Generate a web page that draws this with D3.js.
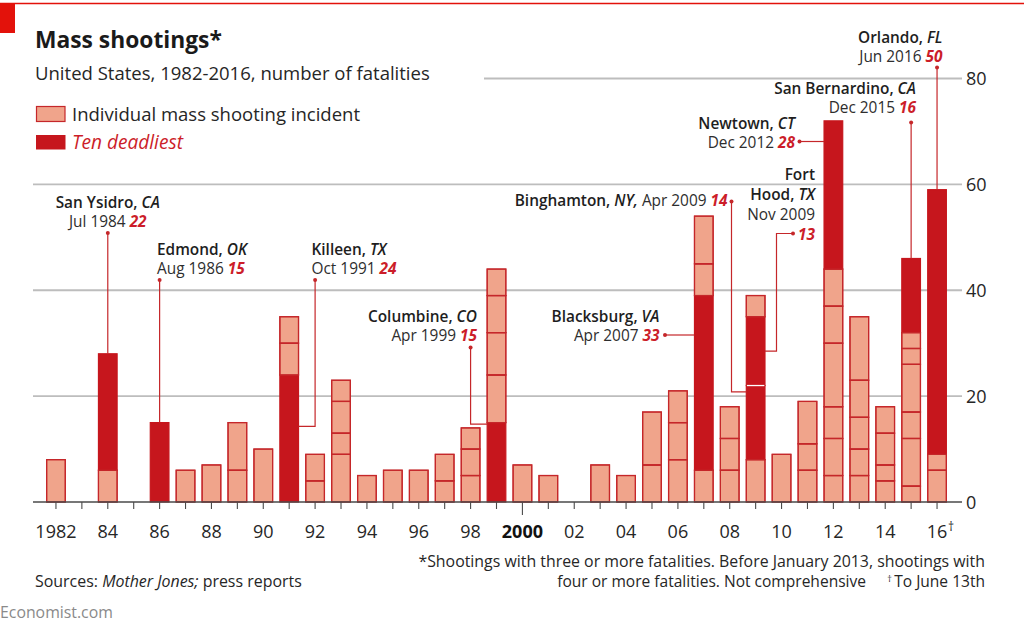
<!DOCTYPE html>
<html><head><meta charset="utf-8">
<script src="https://cdn.jsdelivr.net/npm/d3@7"></script>
<style>
body{margin:0;background:#fff}
svg{display:block}
text{font-family:"Open Sans","Noto Sans",sans-serif;fill:#262626}
</style>
</head><body>
<svg id="c" width="1024" height="630"></svg>
<script>
// ---------------- DATA ----------------
const years = [1982,1983,1984,1985,1986,1987,1988,1989,1990,1991,1992,1993,1994,1995,1996,1997,1998,1999,2000,2001,2002,2003,2004,2005,2006,2007,2008,2009,2010,2011,2012,2013,2014,2015,2016];
// fatalities of each incident in a year, stacked bottom-up
const incidents = [
  [8], [], [6,22], [], [15], [6], [7], [6,9], [10], [24,6,5],
  [4,5], [9,4,6,4], [5], [6], [6], [4,5], [5,5,4], [15,9,8,7,5], [7], [5],
  [], [7], [5], [7,10], [8,7,6], [6,33,6,9], [6,6,6], [8,14,13,4], [9], [6,5,8],
  [5,7,6,12,7,7,28], [5,5,6,7,12], [4,3,6,5], [3,9,5,9,3,3,14], [6,3,50]
];
// [year, index of the incident within that year's stack]
const deadliest = [[1984,1],[1986,0],[1991,0],[1999,0],[2007,1],[2009,1],[2009,2],[2012,6],[2015,6],[2016,2]];
const yTicks = [0,20,40,60,80];
const xTickYears = [1982,1984,1986,1988,1990,1992,1994,1996,1998,2000,2002,2004,2006,2008,2010,2012,2014,2016];
const xTickLabels = ["1982","84","86","88","90","92","94","96","98","2000","02","04","06","08","10","12","14","16"];
const labels = [
  {year:1984, place:"San Ysidro", state:"CA", date:"Jul 1984", killed:"22"},
  {year:1986, place:"Edmond", state:"OK", date:"Aug 1986", killed:"15"},
  {year:1991, place:"Killeen", state:"TX", date:"Oct 1991", killed:"24"},
  {year:1999, place:"Columbine", state:"CO", date:"Apr 1999", killed:"15"},
  {year:2007, place:"Blacksburg", state:"VA", date:"Apr 2007", killed:"33"},
  {year:2009, place:"Binghamton", state:"NY", date:"Apr 2009", killed:"14"},
  {year:2009, place:"Fort Hood", state:"TX", date:"Nov 2009", killed:"13"},
  {year:2012, place:"Newtown", state:"CT", date:"Dec 2012", killed:"28"},
  {year:2015, place:"San Bernardino", state:"CA", date:"Dec 2015", killed:"16"},
  {year:2016, place:"Orlando", state:"FL", date:"Jun 2016", killed:"50"}
];

// ---------------- STYLE ----------------
const C = {light:"#f0a48b", dark:"#c6161d", outline:"#c5272a", red:"#cc1d29",
           grid:"#bdbdbd", axis:"#4a4a4a", text:"#262626", brand:"#e3120b"};
const svg = d3.select("#c");

const x = d3.scaleBand().domain(years).range([43, 950]).paddingInner(0.28).paddingOuter(0.14);
const y = d3.scaleLinear().domain([0, 80]).range([502, 78.5]);
const bw = x.bandwidth();
const xc = yr => x(yr) + bw/2;
const xl = yr => x(yr);
const xr = yr => x(yr) + bw;

// place a single text at (px,py), sizing its font so that it spans width w
function place(t, px, py, w){
  const fs = +t.attr("font-size");
  const n = t.node().getComputedTextLength();
  t.attr("font-size", (fs*w/n).toFixed(2)).attr("x",px).attr("y",py);
  return t;
}
// a run of separately styled words, each its own text element
const ST = {
  place:t=>t.attr("font-weight",600).style("fill","#1e1e1e"),
  state:t=>t.attr("font-weight",600).attr("font-style","italic").style("fill","#1e1e1e"),
  date:t=>t.attr("font-weight",400).style("fill","#2e2e2e"),
  num:t=>t.attr("font-weight",700).attr("font-style","italic").style("fill",C.red),
  plain:t=>t,
  ital:t=>t.attr("font-style","italic")
};
function run(parent, xp, yp, anchor, list, fs, target){
  const g = parent.append("g");
  const items = list.map(([s,k])=>{ const t = g.append("text").text(s); ST[k](t); return {t}; });
  const measure = size => {
    g.attr("font-size", size);
    items.forEach(d=> d.w = d.t.node().getComputedTextLength());
    return d3.sum(items,d=>d.w) + size*0.26*(items.length-1);
  };
  let total = measure(fs);
  if(target){ fs = fs*target/total; total = measure(fs); }
  const gap = fs*0.26;
  let cx = anchor==="start" ? xp : anchor==="end" ? xp-total : xp-total/2;
  items.forEach(d=>{ d.t.attr("x",cx).attr("y",yp); cx += d.w + gap; });
  return g;
}

// ---------------- HEADER ----------------
svg.append("line").attr("x1",0).attr("x2",1024).attr("y1",3.5).attr("y2",3.5).attr("stroke",C.brand).attr("stroke-width",1.5);
svg.append("rect").attr("x",0).attr("y",3).attr("width",15).attr("height",30).attr("fill",C.brand);
place(svg.append("text").attr("font-size",24).attr("font-weight",700).style("fill","#1a1a1a")
  .text("Mass shootings*"), 35, 48, 187);
place(svg.append("text").attr("font-size",18)
  .text("United States, 1982-2016, number of fatalities"), 35, 80, 395);

// legend
svg.append("rect").attr("x",36.5).attr("y",106.5).attr("width",28.5).attr("height",15).attr("fill",C.light).attr("stroke",C.outline).attr("stroke-width",1.2);
place(svg.append("text").attr("font-size",18).text("Individual mass shooting incident"), 72, 121, 288);
svg.append("rect").attr("x",36).attr("y",135).attr("width",29.5).attr("height",14.5).attr("fill",C.dark);
place(svg.append("text").attr("font-size",18).attr("font-style","italic").style("fill",C.red).text("Ten deadliest"), 72, 149, 111);

// ---------------- GRID ----------------
const grid = svg.append("g");
yTicks.filter(v=>v>0).forEach(v=>{
  grid.append("line").attr("x1", v===80 ? 484 : 33).attr("x2",962).attr("y1",y(v)).attr("y2",y(v))
    .attr("stroke",C.grid).attr("stroke-width",1.8);
});
yTicks.forEach(v=>{
  svg.append("text").attr("x",966).attr("y",y(v)+6.5).attr("font-size",18).text(v);
});

// ---------------- BARS ----------------
const isDark = (yr,i) => deadliest.some(d=>d[0]===yr && d[1]===i);
const segs = [];
years.forEach((yr,k)=>{
  let acc=0;
  incidents[k].forEach((v,i)=>{ segs.push({yr, i, y0:acc, y1:acc+v, dark:isDark(yr,i)}); acc+=v; });
});
const totals = {}; years.forEach((yr,k)=> totals[yr]=d3.sum(incidents[k]));

const bars = svg.append("g");
bars.selectAll("rect").data(segs).join("rect")
  .attr("x",d=>x(d.yr)).attr("width",bw)
  .attr("y",d=>y(d.y1)).attr("height",d=>y(d.y0)-y(d.y1))
  .attr("fill",d=>d.dark?C.dark:C.light)
  .attr("stroke",d=>d.dark?C.dark:C.outline).attr("stroke-width",1.2);
// white separators between two adjacent deadliest incidents
segs.forEach(s=>{
  const below = segs.find(t=>t.yr===s.yr && t.i===s.i-1);
  if(s.dark && below && below.dark){
    bars.append("line").attr("x1",x(s.yr)+0.6).attr("x2",x(s.yr)+bw-0.6).attr("y1",y(s.y0)).attr("y2",y(s.y0))
      .attr("stroke","#fff").attr("stroke-width",1.3);
  }
});
// light-segment outlines on top where they touch dark ones
segs.filter(s=>!s.dark).forEach(s=>{
  bars.append("rect").attr("x",x(s.yr)).attr("width",bw).attr("y",y(s.y1)).attr("height",y(s.y0)-y(s.y1))
    .attr("fill","none").attr("stroke",C.outline).attr("stroke-width",1.2);
});

// ---------------- X AXIS ----------------
svg.append("line").attr("x1",33).attr("x2",962).attr("y1",502).attr("y2",502).attr("stroke",C.axis).attr("stroke-width",1.5);
years.forEach(yr=>{
  svg.append("line").attr("x1",xc(yr)).attr("x2",xc(yr)).attr("y1",502).attr("y2", yr===2000?515:509)
    .attr("stroke",C.axis).attr("stroke-width",1.1);
});
xTickYears.forEach((yr,i)=>{
  const t = svg.append("text").attr("x",xc(yr)).attr("y",538).attr("font-size",18).attr("text-anchor","middle");
  if(yr===2000) t.attr("font-weight",700).style("fill","#111");
  t.text(xTickLabels[i]);
});
svg.append("text").attr("x",xc(2016)+11).attr("y",531).attr("font-size",12).text("\u2020");

// ---------------- LEADERS ----------------
const lead = svg.append("g").attr("fill","none").attr("stroke",C.outline).attr("stroke-width",1.2);
const dots = svg.append("g").attr("fill",C.outline);
function leader(pts){
  lead.append("path").attr("d", d3.line()(pts));
  dots.append("circle").attr("cx",pts[0][0]).attr("cy",pts[0][1]).attr("r",2);
}
leader([[xc(1984),233],[xc(1984),y(totals[1984])]]);
leader([[xc(1986),280],[xc(1986),y(totals[1986])]]);
leader([[xc(1992),280],[xc(1992),y(14.3)],[xr(1991),y(14.3)]]);
leader([[xc(1998),347.5],[xc(1998),y(14.7)],[xl(1999),y(14.7)]]);
leader([[665,335],[xl(2007),335]]);
leader([[731.5,201.5],[731.5,y(20.8)],[xl(2009),y(20.8)]]);
leader([[793,233.5],[776.5,233.5],[776.5,y(28.5)],[xr(2009),y(28.5)]]);
leader([[799.5,141.5],[xl(2012),141.5]]);
leader([[xc(2015),122.5],[xc(2015),y(totals[2015])]]);
leader([[xc(2016),67.5],[xc(2016),y(totals[2016])]]);

// ---------------- LABEL TEXT ----------------
const ann = svg.append("g");
const AF = 15.4;
function line(xp, yp, anchor, parts){ return run(ann, xp, yp, anchor, parts, AF); }
function two(L, xp, anchor, b1){
  line(xp, b1, anchor, [[L.place+",","place"],[L.state,"state"]]);
  line(xp, b1+19, anchor, [[L.date,"date"],[L.killed,"num"]]);
}
const byPlace = p => labels.find(l=>l.place===p);
two(byPlace("San Ysidro"), xc(1984), "middle", 208);
two(byPlace("Edmond"), 157, "start", 254.5);
two(byPlace("Killeen"), 311.5, "start", 254.5);
two(byPlace("Columbine"), 477, "end", 321.5);
two(byPlace("Blacksburg"), 659.5, "end", 321.5);
{ const L=byPlace("Binghamton");
  line(727.5, 206, "end", [[L.place+",","place"],[L.state+",","state"],[L.date,"date"],[L.killed,"num"]]); }
{ const L=byPlace("Fort Hood");
  line(815, 180, "end", [["Fort","place"]]);
  line(815, 199.5, "end", [["Hood,","place"],[L.state,"state"]]);
  line(815, 219.5, "end", [[L.date,"date"]]);
  line(815, 239.5, "end", [[L.killed,"num"]]); }
two(byPlace("Newtown"), 795, "end", 128.5);
two(byPlace("San Bernardino"), 916, "end", 94);
two(byPlace("Orlando"), 942.5, "end", 43);

// ---------------- FOOTER ----------------
place(svg.append("text").attr("font-size",15).attr("text-anchor","end")
  .text("*Shootings with three or more fatalities. Before January 2013, shootings with"), 985, 567, 567);
const f2 = place(svg.append("text").attr("font-size",15).attr("text-anchor","end")
  .text("four or more fatalities. Not comprehensive"), 866, 587, 309);
const f3 = svg.append("text").attr("font-size",f2.attr("font-size")).attr("text-anchor","end")
  .attr("x",985).attr("y",587).text("To June 13th");
const w3 = f3.node().getComputedTextLength();
svg.append("text").attr("x",985-w3-7).attr("y",581.5).attr("font-size",9).text("\u2020");
run(svg, 35, 587, "start", [["Sources:","plain"],["Mother Jones;","ital"],["press reports","plain"]], 15, 267);
place(svg.append("text").attr("font-size",15).style("fill","#8a8a8a").text("Economist.com"), 0, 618, 113);
</script>
</body></html>
